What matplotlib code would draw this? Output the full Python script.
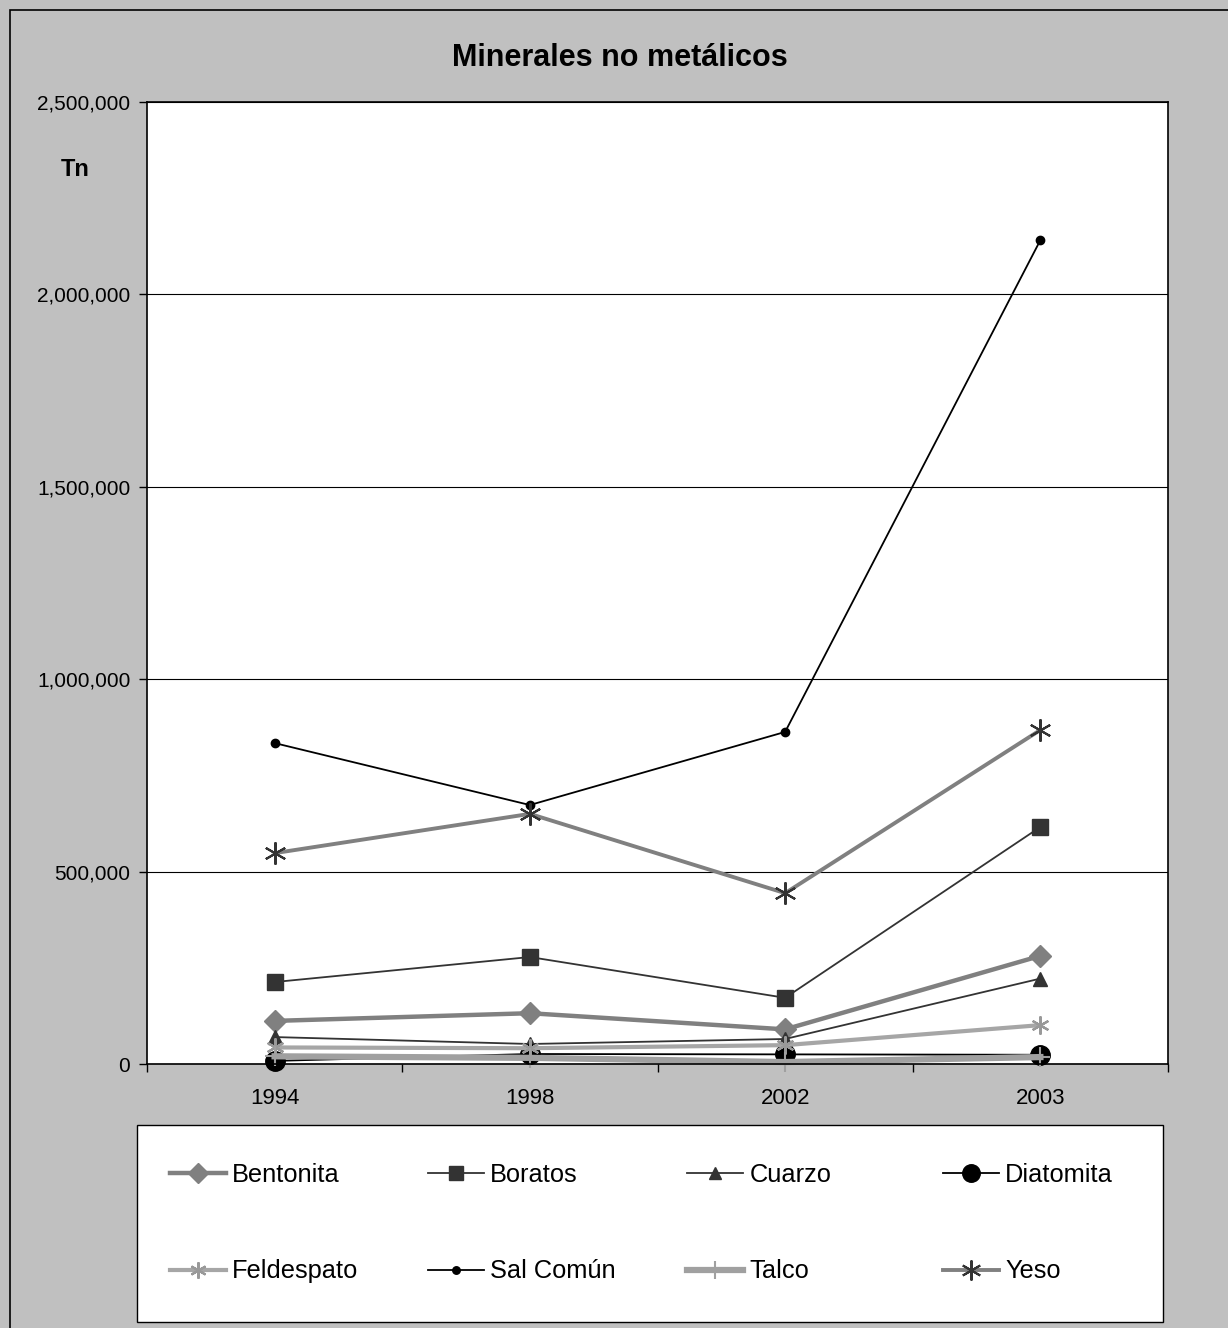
import matplotlib.pyplot as plt
from matplotlib.patches import Rectangle
from matplotlib.ticker import FuncFormatter, FixedLocator

plt.rcParams['font.family'] = ['Liberation Sans', 'DejaVu Sans']

# Datos (toneladas)
anios = ["1994", "1998", "2002", "2003"]
bentonita = [112000, 132000, 90000, 281000]
boratos = [213000, 278000, 172000, 616000]
cuarzo = [70000, 52000, 65000, 222000]
diatomita = [8000, 26000, 25000, 24000]
feldespato = [43000, 41000, 49000, 101000]
sal_comun = [834000, 673000, 863000, 2141000]
talco = [20000, 16000, 5000, 18000]
yeso = [548000, 650000, 444000, 868000]

# Estilo de cada serie (al estilo Excel en escala de grises)
series = [
    ("Bentonita", bentonita, dict(color='#808080', lw=3.2, marker='D', ms=11.5,
                                  mfc='#808080', mec='#808080')),
    ("Boratos", boratos, dict(color='#333333', lw=1.3, marker='s', ms=11,
                              mfc='#333333', mec='#333333')),
    ("Cuarzo", cuarzo, dict(color='#333333', lw=1.3, marker='^', ms=10,
                            mfc='#333333', mec='#333333')),
    ("Diatomita", diatomita, dict(color='#000000', lw=1.3, marker='o', ms=14,
                                  mfc='#000000', mec='#000000')),
    ("Feldespato", feldespato, dict(color='#A6A6A6', lw=3.0, marker=(6, 2, 0), ms=13,
                                    mec='#999999', mew=1.6)),
    ("Sal Común", sal_comun, dict(color='#000000', lw=1.3, marker='o', ms=6,
                                  mfc='#000000', mec='#000000')),
    ("Talco", talco, dict(color='#A0A0A0', lw=4.5, marker='+', ms=14,
                          mec='#A0A0A0', mew=1.5)),
    ("Yeso", yeso, dict(color='#808080', lw=2.8, marker=(6, 2, 0), ms=16,
                        mec='#333333', mew=1.5)),
]

W, H = 1228, 1328
fig = plt.figure(figsize=(W / 100, H / 100), dpi=100)
fig.patch.set_facecolor('#C0C0C0')

# Marco exterior (solo visible arriba y a la izquierda)
fig.patches.append(Rectangle((10 / W, -0.05), 1.1, 1 - 10 / H + 0.05, transform=fig.transFigure,
                             fill=False, edgecolor='black', lw=1.2, zorder=0))

ax = fig.add_axes([147 / W, 1 - 1064 / H, (1168 - 147) / W, (1064 - 102) / H])
ax.set_facecolor('white')

x = list(range(len(anios)))
lineas = []
for nombre, valores, estilo in series:
    ln, = ax.plot(x, valores, label=nombre, clip_on=False, **estilo)
    lineas.append(ln)

ax.set_xlim(-0.5, len(anios) - 0.5)
ax.set_ylim(0, 2500000)
ax.set_yticks(range(0, 2500001, 500000))
ax.yaxis.set_major_formatter(FuncFormatter(lambda v, p: f"{int(v):,}"))
ax.grid(axis='y', color='black', lw=0.8)
ax.set_axisbelow(True)

# Marcas del eje X en los limites de cada categoria, etiquetas en el centro
ax.xaxis.set_major_locator(FixedLocator([i - 0.5 for i in range(len(anios) + 1)]))
ax.xaxis.set_major_formatter(FuncFormatter(lambda v, p: ""))
ax.set_xticks(x, minor=True)
ax.set_xticklabels(anios, minor=True)
ax.tick_params(axis='x', which='major', direction='out', length=6, width=1)
ax.tick_params(axis='x', which='minor', length=0, pad=17, labelsize=16)
ax.tick_params(axis='y', direction='out', length=6, width=1, pad=6, labelsize=15)
for s in ax.spines.values():
    s.set_color('black')
    s.set_linewidth(1.2)

fig.text(620 / W, 1 - 58 / H, "Minerales no metálicos", ha='center', va='center',
         fontsize=22, fontweight='bold')
fig.text(75 / W, 1 - 170 / H, "Tn", ha='center', va='center', fontsize=17, fontweight='bold')

# Caja de la leyenda
fig.patches.append(Rectangle((137 / W, 1 - 1322 / H), (1163 - 137) / W, (1322 - 1125) / H,
                             transform=fig.transFigure, facecolor='white',
                             edgecolor='black', lw=1.0, zorder=1))

# Leyenda en 4 columnas
columnas_x = [170, 428, 687, 943]
for i, cx in enumerate(columnas_x):
    handles = [lineas[i], lineas[i + 4]]
    leg = fig.legend(handles=handles, labels=[h.get_label() for h in handles],
                     loc='upper left', bbox_to_anchor=(cx / W, 1 - 1163 / H),
                     frameon=False, fontsize=18.3, handlelength=2.2, handletextpad=0.25,
                     labelspacing=2.85, borderpad=0, borderaxespad=0, markerscale=0.9)
    leg.set_zorder(2)

fig.savefig("out.png", dpi=100, facecolor=fig.get_facecolor())
